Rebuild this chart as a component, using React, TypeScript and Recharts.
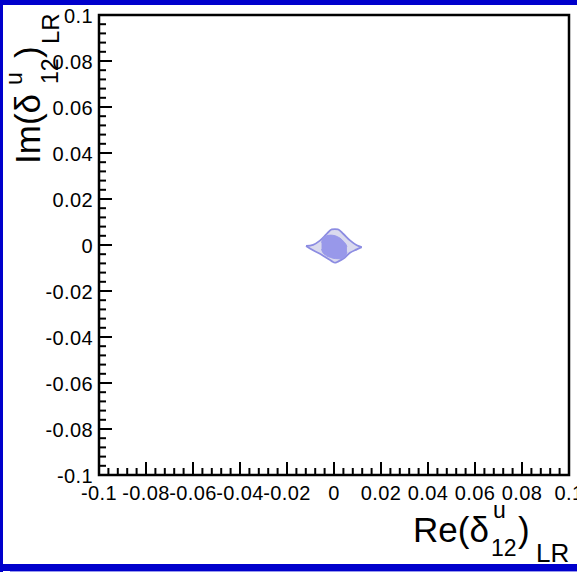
import React from 'react';
import { ComposedChart, XAxis, YAxis, Area, ReferenceArea } from 'recharts';

// Tick positions (major every 0.02, minor every 0.004)
const axisTicks = [
  -0.1, -0.096, -0.092, -0.088, -0.084, -0.08, -0.076, -0.072, -0.068, -0.064,
  -0.06, -0.056, -0.052, -0.048, -0.044, -0.04, -0.036, -0.032, -0.028, -0.024,
  -0.02, -0.016, -0.012, -0.008, -0.004, 0, 0.004, 0.008, 0.012, 0.016,
  0.02, 0.024, 0.028, 0.032, 0.036, 0.04, 0.044, 0.048, 0.052, 0.056,
  0.06, 0.064, 0.068, 0.072, 0.076, 0.08, 0.084, 0.088, 0.092, 0.096, 0.1,
];
const majorTicks = [-0.1, -0.08, -0.06, -0.04, -0.02, 0, 0.02, 0.04, 0.06, 0.08, 0.1];
const majorLabels = ['-0.1', '-0.08', '-0.06', '-0.04', '-0.02', '0', '0.02', '0.04', '0.06', '0.08', '0.1'];

// Outer contour (light region): x with lower / upper edges
const outerX = [-0.0119, -0.0089, -0.006, -0.0031, -0.001, 0.0004, 0.0017, 0.0039, 0.0068, 0.0097, 0.0118];
const outerLow = [-0.0004, -0.0023, -0.0038, -0.0057, -0.007, -0.0077, -0.0072, -0.006, -0.0034, -0.0019, -0.0009];
const outerHigh = [-0.0004, 0.0001, 0.0019, 0.0048, 0.0068, 0.0069, 0.0068, 0.0049, 0.002, -0.0001, -0.0009];

// Inner contour (dark region)
const innerX = [-0.0053, -0.0048, -0.0036, -0.0015, 0.0005, 0.0025, 0.0042, 0.0051, 0.0055];
const innerLow = [-0.0018, -0.0032, -0.0044, -0.0054, -0.0059, -0.006, -0.0054, -0.0044, -0.003];
const innerHigh = [0.001, 0.0026, 0.0038, 0.0043, 0.004, 0.003, 0.0014, 0.0002, -0.0008];

type Row = { x: number; outer?: [number, number]; inner?: [number, number] };
const rows: Row[] = [
  ...outerX.map((x, i) => ({ x, outer: [outerLow[i], outerHigh[i]] as [number, number] })),
  ...innerX.map((x, i) => ({ x, inner: [innerLow[i], innerHigh[i]] as [number, number] })),
].sort((a, b) => a.x - b.x);

const FONT = '"Liberation Sans", Arial, Helvetica, sans-serif';

const labelFor = (v: number) => {
  const idx = majorTicks.findIndex((m) => Math.abs(m - v) < 1e-9);
  return idx >= 0 ? majorLabels[idx] : null;
};

const XTick = (props: any) => {
  const { x, y, payload } = props;
  const lab = labelFor(payload.value);
  const len = lab !== null ? 13 : 7;
  return (
    <g>
      <line x1={x} y1={y} x2={x} y2={y - len} stroke="#000" strokeWidth={2} />
      {lab !== null && (
        <text x={x} y={y + 25} textAnchor="middle" fontSize={20} letterSpacing={0.4} fontFamily={FONT} fill="#000">
          {lab}
        </text>
      )}
    </g>
  );
};

const YTick = (props: any) => {
  const { x, y, payload } = props;
  const lab = labelFor(payload.value);
  const len = lab !== null ? 13 : 7;
  return (
    <g>
      <line x1={x} y1={y} x2={x + len} y2={y} stroke="#000" strokeWidth={2} />
      {lab !== null && (
        <text x={x - 6} y={y + 8} textAnchor="end" fontSize={20} letterSpacing={0.4} fontFamily={FONT} fill="#000">
          {lab}
        </text>
      )}
    </g>
  );
};

export default function App() {
  return (
    <div style={{ position: 'absolute', left: 0, top: 0, width: 577, height: 572, background: '#fff', overflow: 'hidden' }}>
      <ComposedChart width={577} height={572} data={rows} margin={{ top: 15, right: 8, left: 0, bottom: 0 }}>
        <XAxis
          type="number"
          dataKey="x"
          domain={[-0.1, 0.1]}
          ticks={axisTicks}
          interval={0}
          height={97}
          axisLine={false}
          tickLine={false}
          tickSize={0}
          tickMargin={0}
          tick={<XTick />}
          allowDataOverflow
        />
        <YAxis
          type="number"
          domain={[-0.1, 0.1]}
          ticks={axisTicks}
          interval={0}
          width={99}
          axisLine={false}
          tickLine={false}
          tickSize={0}
          tickMargin={0}
          tick={<YTick />}
          allowDataOverflow
        />
        <Area
          dataKey="outer"
          type="monotone"
          connectNulls
          fill="#dadaee"
          fillOpacity={1}
          stroke="#8c8ce2"
          strokeWidth={1.8}
          dot={false}
          activeDot={false}
          isAnimationActive={false}
        />
        <Area
          dataKey="inner"
          type="monotone"
          connectNulls
          fill="#9898ea"
          fillOpacity={1}
          stroke="#9898ea"
          strokeWidth={1}
          dot={false}
          activeDot={false}
          isAnimationActive={false}
        />
        <ReferenceArea x1={-0.1} x2={0.1} y1={-0.1} y2={0.1} fill="none" fillOpacity={0} stroke="#000" strokeWidth={2.5} />
      </ComposedChart>

      <svg width={577} height={572} style={{ position: 'absolute', left: 0, top: 0, pointerEvents: 'none' }}>
        <g fontFamily={FONT} fill="#000">
          <text x={413} y={542} fontSize={35}>Re(δ</text>
          <text x={493} y={518} fontSize={23}>u</text>
          <text x={491} y={556} fontSize={23}>12</text>
          <text x={518} y={542} fontSize={35}>)</text>
          <text x={536} y={562} fontSize={26}>LR</text>
        </g>
        <g transform="translate(0,164) rotate(-90)" fontFamily={FONT} fill="#000">
          <text x={0} y={40} fontSize={35}>Im(δ</text>
          <text x={79} y={22} fontSize={23}>u</text>
          <text x={80} y={58} fontSize={23}>12</text>
          <text x={106} y={40} fontSize={35}>)</text>
          <text x={120} y={59} fontSize={24}>LR</text>
        </g>
      </svg>

      <div style={{ position: 'absolute', left: 0, top: 0, width: 577, height: 5, background: '#0000cc' }} />
      <div style={{ position: 'absolute', left: 0, top: 0, width: 3, height: 572, background: '#0000cc' }} />
      <div style={{ position: 'absolute', left: 0, top: 564, width: 577, height: 7, background: '#0000cc' }} />
      <div style={{ position: 'absolute', left: 10, top: 571, width: 567, height: 1, background: '#9999ee' }} />
    </div>
  );
}
